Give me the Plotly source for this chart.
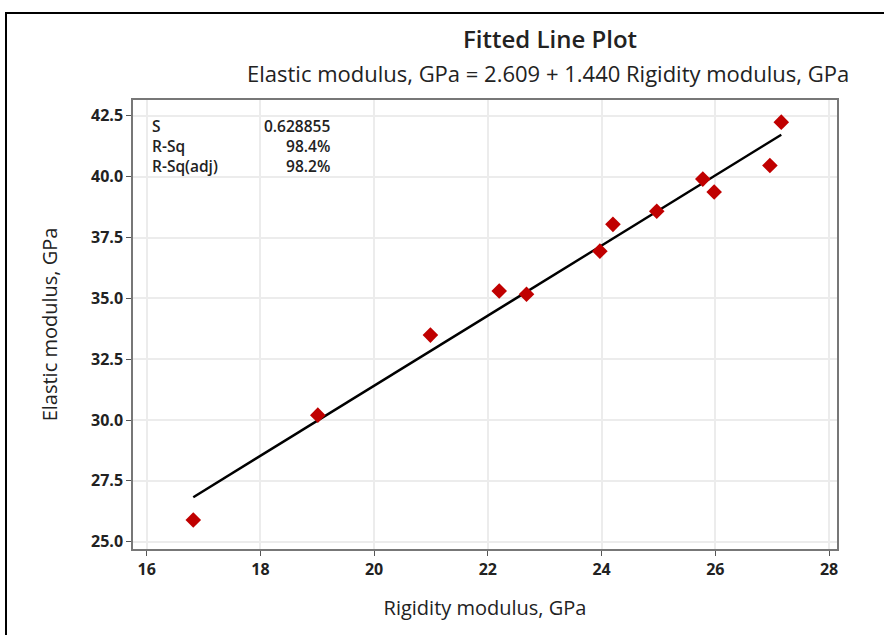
import plotly.graph_objects as go

rigidity = [16.82, 19.01, 20.99, 22.20, 22.68, 23.97, 24.20, 24.97, 25.78, 25.98, 26.96, 27.16]
elastic = [25.89, 30.20, 33.49, 35.30, 35.17, 36.94, 38.04, 38.58, 39.90, 39.37, 40.46, 42.24]
intercept = 2.609
slope = 1.440
stat_labels = ["S", "R-Sq", "R-Sq(adj)"]
stat_values = ["0.628855", "98.4%", "98.2%"]
x_ticks = [16, 18, 20, 22, 24, 26, 28]
y_ticks = [25.0, 27.5, 30.0, 32.5, 35.0, 37.5, 40.0, 42.5]

xmin, xmax = min(rigidity), max(rigidity)
fit_x = [xmin, xmax]
fit_y = [intercept + slope * v for v in fit_x]

FONT = "Open Sans"
L, R, T, B = 133, 47, 100, 86
W, H = 884, 635
pw, ph = W - L - R, H - T - B

def px(xp):
    return (xp - L) / pw

def py(yp):
    return (H - B - yp) / ph

fig = go.Figure()
fig.add_trace(go.Scatter(x=fit_x, y=fit_y, mode="lines",
                         line=dict(color="black", width=2.4), hoverinfo="skip"))
fig.add_trace(go.Scatter(x=rigidity, y=elastic, mode="markers",
                         marker=dict(symbol="diamond", size=12, color="#c00000",
                                     line=dict(width=0))))

axis_common = dict(showgrid=True, gridcolor="#ececec", gridwidth=1.5,
                   showline=True, linecolor="#777777", linewidth=1.5, mirror=True,
                   ticks="outside", ticklen=5, tickcolor="#555555", zeroline=False,
                   tickfont=dict(family=FONT, size=16, color="#222222", weight="bold"))

fig.update_xaxes(range=[15.76, 28.14], tickvals=x_ticks,
                 ticktext=[str(v) for v in x_ticks],
                 title=dict(text="Rigidity modulus, GPa", standoff=22,
                            font=dict(family=FONT, size=20, color="#222222")),
                 **axis_common)
fig.update_yaxes(range=[24.70, 43.15], tickvals=y_ticks,
                 ticktext=[f"{v:.1f}" for v in y_ticks],
                 title=dict(text="Elastic modulus, GPa", standoff=28,
                            font=dict(family=FONT, size=20, color="#222222")),
                 **axis_common)

anns = [
    dict(text="Fitted Line Plot", x=px(550), y=py(38), xref="paper", yref="paper",
         showarrow=False, font=dict(family=FONT, size=24, color="#222222", weight=600),
         xanchor="center", yanchor="middle"),
    dict(text="Elastic modulus, GPa = 2.609 + 1.440 Rigidity modulus, GPa",
         x=px(548), y=py(73), xref="paper", yref="paper", showarrow=False,
         font=dict(family=FONT, size=22, color="#222222"),
         xanchor="center", yanchor="middle"),
    dict(text="<br>".join(stat_labels), x=px(150), y=py(113), xref="paper", yref="paper",
         showarrow=False, align="left", xanchor="left", yanchor="top",
         font=dict(family=FONT, size=15.5, color="#222222", weight=600)),
    dict(text="<br>".join(stat_values), x=px(332), y=py(113), xref="paper", yref="paper",
         showarrow=False, align="right", xanchor="right", yanchor="top",
         font=dict(family=FONT, size=15.5, color="#222222", weight=600)),
]

shapes = [dict(type="rect", xref="paper", yref="paper",
               x0=px(6), x1=px(W + 20), y0=py(H + 20), y1=py(13),
               line=dict(color="black", width=2), fillcolor="rgba(0,0,0,0)", layer="above")]

fig.update_layout(width=W, height=H, margin=dict(l=L, r=R, t=T, b=B),
                  paper_bgcolor="white", plot_bgcolor="white", showlegend=False,
                  annotations=anns, shapes=shapes)

fig.write_html("out.html")
